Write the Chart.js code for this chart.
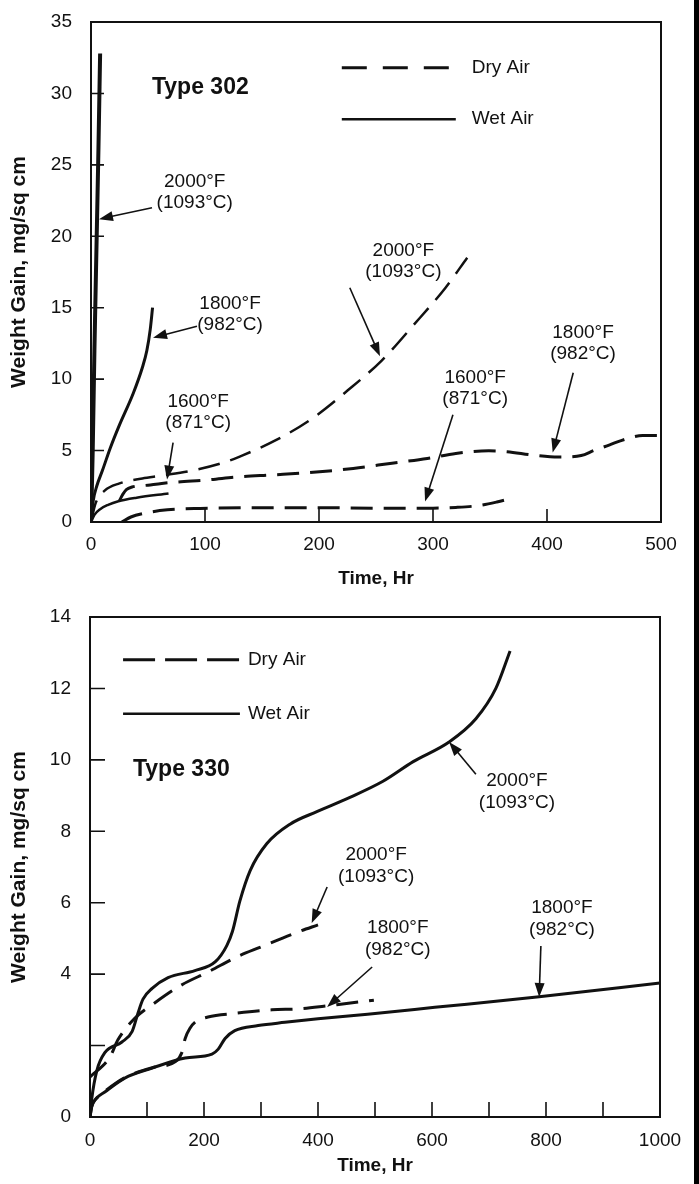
<!DOCTYPE html>
<html>
<head>
<meta charset="utf-8">
<script src="https://cdn.jsdelivr.net/npm/chart.js@4.4.0/dist/chart.umd.min.js"></script>
<style>
  html, body { margin: 0; padding: 0; background: #fff; }
  #page { position: relative; width: 699px; height: 1184px; overflow: hidden; }
  #top { position: absolute; left: 0; top: 0; }
  #bottom { position: absolute; left: 0; top: 590px; }
  #edge { position: absolute; left: 694px; top: 0; width: 5px; height: 1184px; background: #000; }
</style>
</head>
<body>
<div id="page">
  <canvas id="top" width="699" height="590"></canvas>
  <canvas id="bottom" width="699" height="594"></canvas>
  <div id="edge"></div>
</div>
<script>
// ---- Type 302 (time in hr, weight gain in mg/sq cm) ----
const xTicks302 = [0, 100, 200, 300, 400, 500];
const yTicks302 = [0, 5, 10, 15, 20, 25, 30, 35];

const wet2000_302_t = [0, 0.5, 1.5, 3, 5, 6.5, 8];
const wet2000_302_w = [0, 1.5, 5, 12, 20, 26, 32.8];
const wet1800_302_t = [0, 2, 5, 10, 17, 25, 37, 45, 49, 52, 54];
const wet1800_302_w = [0, 1.5, 2.5, 3.6, 5.2, 6.8, 9, 10.8, 12, 13.5, 15];
const wet1600_302_t = [0, 3, 8, 15, 24, 40, 68];
const wet1600_302_w = [0, 0.5, 0.9, 1.2, 1.45, 1.7, 2.0];
const dry2000_302_t = [0, 4, 12, 25, 45, 62, 93, 118, 131, 163, 195, 225, 255, 282, 311, 330];
const dry2000_302_w = [0, 1.3, 2.2, 2.7, 3.05, 3.25, 3.67, 4.2, 4.6, 5.76, 7.3, 9.2, 11.3, 13.7, 16.4, 18.5];
const dry1800_302_t = [25, 28, 31, 36, 50, 62, 76, 103, 128, 160, 190, 230, 264, 295, 320, 349, 365, 388, 410, 430, 441, 455, 465, 484, 500];
const dry1800_302_w = [1.5, 1.95, 2.27, 2.45, 2.58, 2.7, 2.8, 2.95, 3.15, 3.3, 3.45, 3.75, 4.12, 4.45, 4.8, 4.98, 4.92, 4.68, 4.55, 4.65, 5.0, 5.4, 5.7, 6.05, 6.05];
const dry1600_302_t = [27, 35, 46, 67, 96, 150, 200, 250, 300, 320, 340, 356, 371];
const dry1600_302_w = [0, 0.35, 0.6, 0.85, 0.95, 1.0, 1.0, 0.97, 0.97, 1.02, 1.15, 1.4, 1.7];

// ---- Type 330 ----
const xTicks330 = [0, 100, 200, 300, 400, 500, 600, 700, 800, 900, 1000];
const xLabels330 = ['0', '', '200', '', '400', '', '600', '', '800', '', '1000'];
const yTicks330 = [0, 2, 4, 6, 8, 10, 12, 14];
const yLabels330 = ['0', '', '4', '6', '8', '10', '12', '14'];

const wet2000_330_t = [0, 3, 12, 26, 56, 74, 84, 93, 109, 137, 184, 220, 240, 250, 263, 281, 310, 351, 398, 456, 514, 567, 630, 677, 712, 737];
const wet2000_330_w = [0, 0.5, 1.3, 1.8, 2.1, 2.4, 2.9, 3.3, 3.6, 3.9, 4.1, 4.35, 4.8, 5.2, 6.05, 6.9, 7.65, 8.2, 8.55, 8.95, 9.4, 9.95, 10.5, 11.15, 12.0, 13.05];
const wet1800_330_t = [0, 3, 10, 26, 61, 109, 167, 214, 225, 237, 254, 295, 342, 400, 487, 605, 784, 1000];
const wet1800_330_w = [0, 0.28, 0.5, 0.7, 1.09, 1.37, 1.65, 1.76, 1.9, 2.2, 2.42, 2.56, 2.65, 2.75, 2.88, 3.07, 3.36, 3.75];
const dry2000_330_t = [0, 35, 49, 79, 114, 161, 207, 260, 298, 368, 400];
const dry2000_330_w = [1.12, 1.68, 2.16, 2.77, 3.2, 3.7, 4.06, 4.5, 4.75, 5.2, 5.38];
const dry1800_330_t = [0, 3, 10, 26, 61, 109, 150, 161, 167, 176, 184, 207, 254, 319, 368, 410, 450, 498];
const dry1800_330_w = [0, 0.3, 0.5, 0.72, 1.1, 1.38, 1.55, 1.8, 2.2, 2.5, 2.65, 2.8, 2.9, 3.0, 3.03, 3.1, 3.18, 3.27];

const ink = '#111';
const font = '"Liberation Sans", Arial, Helvetica, sans-serif';

function pts(t, w) {
    return t.map((v, i) => ({ x: v, y: w[i] }));
}

function series(t, w, dashed, width) {
    return {
        data: pts(t, w),
        borderColor: ink,
        borderWidth: width || 3,
        borderDash: dashed ? [22, 11] : [],
        pointRadius: 0,
        fill: false,
        tension: 0.4,
        cubicInterpolationMode: 'monotone'
    };
}

function arrow(ctx, x1, y1, x2, y2) {
    const ang = Math.atan2(y2 - y1, x2 - x1);
    const len = 14, half = 5;
    ctx.lineWidth = 1.6;
    ctx.beginPath();
    ctx.moveTo(x1, y1);
    ctx.lineTo(x2 - Math.cos(ang) * len * 0.7, y2 - Math.sin(ang) * len * 0.7);
    ctx.stroke();
    ctx.beginPath();
    ctx.moveTo(x2, y2);
    ctx.lineTo(x2 - Math.cos(ang) * len - Math.sin(ang) * half, y2 - Math.sin(ang) * len + Math.cos(ang) * half);
    ctx.lineTo(x2 - Math.cos(ang) * len + Math.sin(ang) * half, y2 - Math.sin(ang) * len - Math.cos(ang) * half);
    ctx.closePath();
    ctx.fill();
}

// Frame, inward ticks, legend, labels and arrows (all placed through the scales)
function decorations(cfg) {
    return {
        id: 'decor',
        afterDraw(chart) {
            const { ctx, chartArea: a } = chart;
            const x = chart.scales.x, y = chart.scales.y;
            const px = v => x.getPixelForValue(v), py = v => y.getPixelForValue(v);
            ctx.save();
            ctx.strokeStyle = ink;
            ctx.fillStyle = ink;

            ctx.lineWidth = 2;
            ctx.strokeRect(a.left, a.top, a.right - a.left, a.bottom - a.top);

            ctx.lineWidth = 1.6;
            ctx.beginPath();
            x.ticks.forEach(tk => {
                if (tk.value <= x.min || tk.value >= x.max) return;
                ctx.moveTo(px(tk.value), a.bottom);
                ctx.lineTo(px(tk.value), a.bottom - cfg.tickLen);
            });
            y.ticks.forEach(tk => {
                if (tk.value <= y.min || tk.value >= y.max) return;
                ctx.moveTo(a.left, py(tk.value));
                ctx.lineTo(a.left + cfg.tickLen, py(tk.value));
            });
            ctx.stroke();

            // legend
            const lg = cfg.legend;
            ctx.lineWidth = 3;
            ctx.setLineDash(lg.dash);
            ctx.beginPath();
            ctx.moveTo(px(lg.from), py(lg.dryW));
            ctx.lineTo(px(lg.to), py(lg.dryW));
            ctx.stroke();
            ctx.setLineDash([]);
            ctx.lineWidth = 2.5;
            ctx.beginPath();
            ctx.moveTo(px(lg.from), py(lg.wetW));
            ctx.lineTo(px(lg.to), py(lg.wetW));
            ctx.stroke();
            ctx.font = '19px ' + font;
            ctx.textAlign = 'left';
            ctx.textBaseline = 'middle';
            ctx.fillText('Dry Air', px(lg.text), py(lg.dryW));
            ctx.fillText('Wet Air', px(lg.text), py(lg.wetW));

            // alloy name
            ctx.font = 'bold 23px ' + font;
            ctx.fillText(cfg.name.text, px(cfg.name.t), py(cfg.name.w));

            // temperature labels
            ctx.font = '19px ' + font;
            ctx.textAlign = 'center';
            cfg.notes.forEach(n => {
                n.lines.forEach((s, i) => ctx.fillText(s, px(n.t), py(n.w) + i * cfg.lineGap));
            });
            cfg.arrows.forEach(ar => arrow(ctx, px(ar[0]), py(ar[1]), px(ar[2]), py(ar[3])));
            ctx.restore();
        }
    };
}

function makeChart(id, datasets, s) {
    new Chart(document.getElementById(id), {
        type: 'line',
        data: { datasets: datasets },
        options: {
            responsive: false,
            animation: false,
            devicePixelRatio: 1,
            layout: { padding: s.padding },
            plugins: { legend: { display: false }, tooltip: { enabled: false } },
            scales: {
                x: {
                    type: 'linear',
                    min: s.xTicks[0],
                    max: s.xTicks[s.xTicks.length - 1],
                    afterFit: sc => { sc.height = s.xHeight; sc.paddingLeft = 0; sc.paddingRight = 0; },
                    afterBuildTicks: sc => { sc.ticks = s.xTicks.map(v => ({ value: v })); },
                    grid: { display: false, drawTicks: false },
                    border: { display: false },
                    ticks: {
                        autoSkip: false,
                        maxRotation: 0,
                        padding: s.xPad,
                        color: ink,
                        font: { family: font, size: 19 },
                        callback: (v, i) => s.xLabels[i]
                    },
                    title: {
                        display: true,
                        text: 'Time, Hr',
                        color: ink,
                        font: { family: font, size: 19, weight: 'bold' },
                        padding: { top: 0, bottom: s.xTitlePad }
                    }
                },
                y: {
                    type: 'linear',
                    min: s.yTicks[0],
                    max: s.yTicks[s.yTicks.length - 1],
                    afterFit: sc => { sc.width = s.yWidth; sc.paddingTop = 0; sc.paddingBottom = 0; },
                    afterBuildTicks: sc => { sc.ticks = s.yTicks.map(v => ({ value: v })); },
                    grid: { display: false, drawTicks: false },
                    border: { display: false },
                    ticks: {
                        autoSkip: false,
                        padding: 19,
                        color: ink,
                        font: { family: font, size: 19 },
                        callback: (v, i) => s.yLabels[i]
                    },
                    title: {
                        display: true,
                        text: 'Weight Gain, mg/sq cm',
                        color: ink,
                        font: { family: font, size: 21, weight: 'bold' },
                        padding: { top: 7, bottom: 0 }
                    }
                }
            }
        },
        plugins: [decorations(s.decor)]
    });
}

makeChart('top', [
    series(wet2000_302_t, wet2000_302_w, false, 4),
    series(wet1800_302_t, wet1800_302_w, false, 3),
    series(wet1600_302_t, wet1600_302_w, false, 2.5),
    series(dry2000_302_t, dry2000_302_w, true, 2.5),
    series(dry1800_302_t, dry1800_302_w, true, 3),
    series(dry1600_302_t, dry1600_302_w, true, 3)
], {
    padding: { top: 22, right: 38, left: 0, bottom: 0 },
    xTicks: xTicks302,
    xLabels: xTicks302.map(String),
    yTicks: yTicks302,
    yLabels: yTicks302.map(String),
    xHeight: 68, yWidth: 91, xPad: 11, xTitlePad: 0,
    decor: {
        tickLen: 13,
        lineGap: 21,
        legend: { from: 220, to: 320, text: 334, dryW: 31.8, wetW: 28.2, dash: [25, 16] },
        name: { text: 'Type 302', t: 53.5, w: 30.4 },
        notes: [
            { t: 91, w: 23.8, lines: ['2000°F', '(1093°C)'] },
            { t: 122, w: 15.3, lines: ['1800°F', '(982°C)'] },
            { t: 94, w: 8.4, lines: ['1600°F', '(871°C)'] },
            { t: 274, w: 19.0, lines: ['2000°F', '(1093°C)'] },
            { t: 337, w: 10.1, lines: ['1600°F', '(871°C)'] },
            { t: 431.6, w: 13.25, lines: ['1800°F', '(982°C)'] }
        ],
        arrows: [
            [53.5, 22.0, 7, 21.2],
            [93, 13.7, 54.4, 12.9],
            [72, 5.56, 66.7, 2.97],
            [227, 16.4, 253.5, 11.6],
            [317.5, 7.5, 293, 1.43],
            [423, 10.45, 405, 4.86]
        ]
    }
});

makeChart('bottom', [
    series(wet2000_330_t, wet2000_330_w, false, 3),
    series(wet1800_330_t, wet1800_330_w, false, 3),
    series(dry2000_330_t, dry2000_330_w, true, 3),
    series(dry1800_330_t, dry1800_330_w, true, 3)
], {
    padding: { top: 27, right: 39, left: 0, bottom: 0 },
    xTicks: xTicks330,
    xLabels: xLabels330,
    yTicks: yTicks330,
    yLabels: yLabels330,
    xHeight: 67, yWidth: 90, xPad: 12, xTitlePad: 7,
    decor: {
        tickLen: 15,
        lineGap: 22,
        legend: { from: 58, to: 263, text: 277, dryW: 12.8, wetW: 11.29, dash: [32, 10] },
        name: { text: 'Type 330', t: 75.4, w: 9.72 },
        notes: [
            { t: 749, w: 9.41, lines: ['2000°F', '(1093°C)'] },
            { t: 502, w: 7.34, lines: ['2000°F', '(1093°C)'] },
            { t: 540, w: 5.29, lines: ['1800°F', '(982°C)'] },
            { t: 828, w: 5.85, lines: ['1800°F', '(982°C)'] }
        ],
        arrows: [
            [677, 9.6, 630, 10.5],
            [416, 6.44, 389, 5.43],
            [495, 4.2, 416, 3.08],
            [791, 4.79, 788, 3.36]
        ]
    }
});
</script>
</body>
</html>
